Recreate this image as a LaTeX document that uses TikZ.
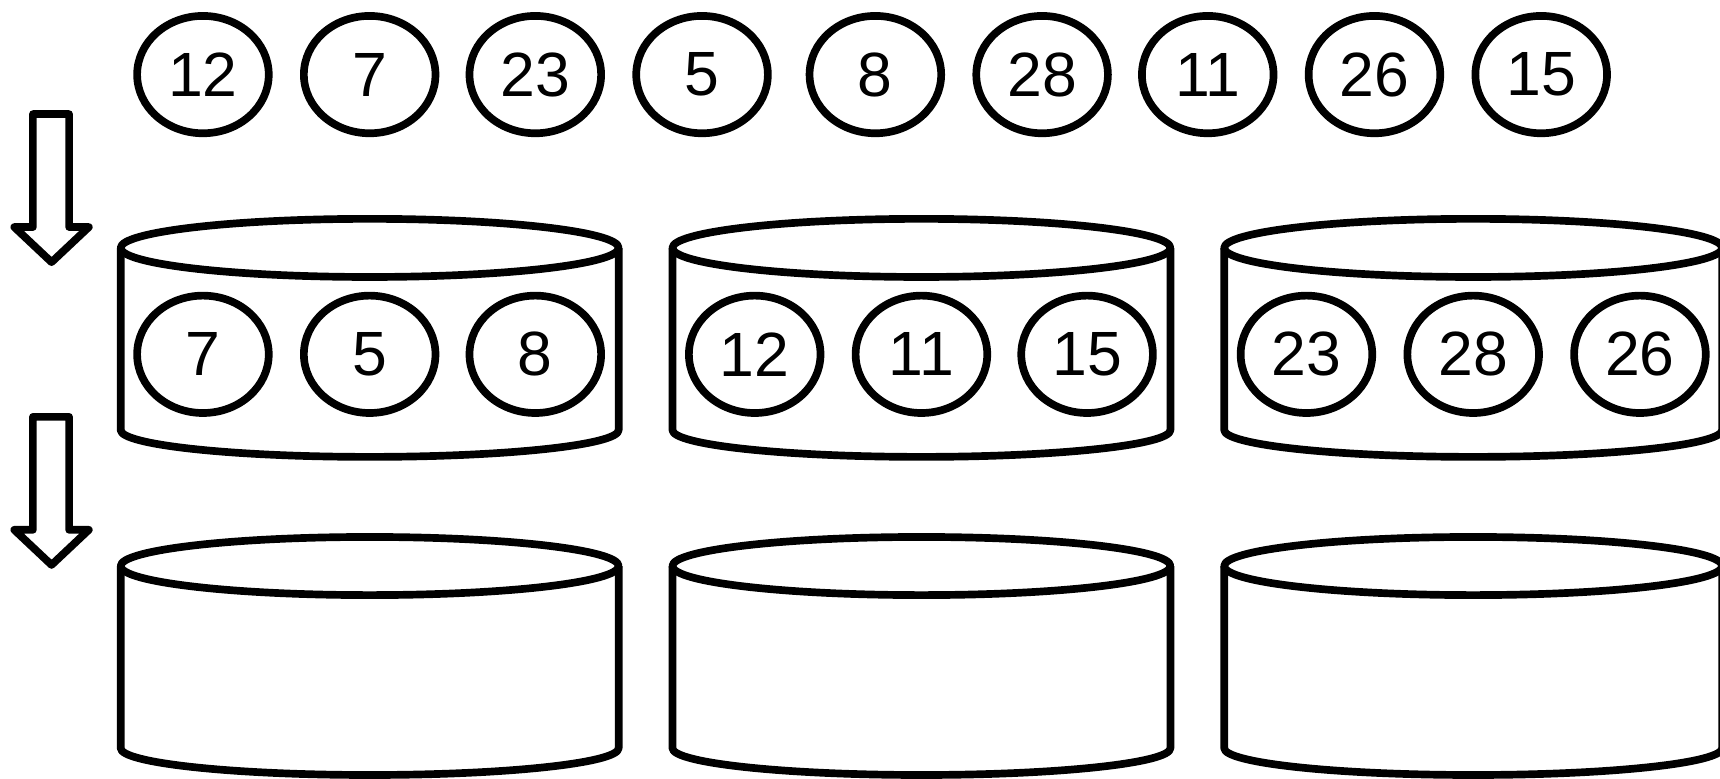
\documentclass[tikz,border=0pt]{standalone}
\usepackage{fontspec}
\setmainfont{Liberation Sans}
\usetikzlibrary{shapes.geometric}
\begin{document}
\begin{tikzpicture}[x=1pt,y=-1pt,line width=7pt,line join=round,
  ball/.style={draw,ellipse,inner sep=0pt,minimum width=120pt,minimum height=107pt,
    font=\fontsize{57}{60}\selectfont},
  downarrow/.style={draw,line join=round}]
\useasboundingbox (0,0) rectangle (1568,710);
% top row
\foreach \n/\x/\t in {a1/185/12,a2/337/7,a3/488/23,a4/640/5,a5/798/8,a6/950/28,a7/1101/11,a8/1253/26,a9/1405/15}
  \node[ball] (\n) at (\x,68) {\t};
% arrows
\foreach \n/\y in {ar1/104,ar2/380}
  \draw[downarrow] (30,\y) -- (63,\y) -- (63,\y+103) -- (81,\y+103) -- (47,\y+135) -- (13,\y+103) -- (30,\y+103) -- cycle;
% cylinders
\foreach \cx in {337,840,1343}{
  \foreach \top/\bot in {226/392,516/682}{
    \draw (\cx,\top) ellipse [x radius=227,y radius=26.5];
    \draw (\cx-227,\top) -- (\cx-227,\bot) arc[start angle=180,end angle=360,x radius=227,y radius=-24.5] -- (\cx+227,\top);
  }
}
% inner balls
\foreach \n/\x/\t in {b1/185/7,b2/337/5,b3/488/8,b4/688/12,b5/840/11,b6/991/15,b7/1191/23,b8/1343/28,b9/1495/26}
  \node[ball] (\n) at (\x,323) {\t};
\end{tikzpicture}
\end{document}
